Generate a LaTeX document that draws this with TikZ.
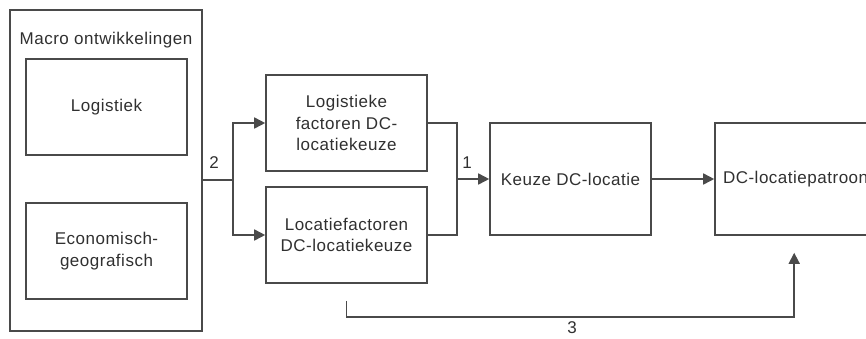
\documentclass[tikz,border=0pt]{standalone}
\usepackage{fontspec}
\setmainfont{Liberation Sans}[LetterSpace=3]
\usetikzlibrary{arrows.meta,calc}
\definecolor{linec}{HTML}{4A4A4A}
\definecolor{textc}{HTML}{303030}
\begin{document}
\begin{tikzpicture}[x=1pt,y=-1pt,
  every node/.style={font=\fontsize{17}{21.5}\selectfont, text=textc},
  box/.style={draw=linec, line width=1.6pt, rectangle, inner sep=0pt, align=center},
  conn/.style={draw=linec, line width=1.6pt},
  arr/.style={conn, -{Triangle[length=11pt,width=11pt]}},
  lbl/.style={inner sep=0pt}]
\clip (0,0) rectangle (866,338);
\useasboundingbox (0,0) rectangle (866,338);
\fill[white] (0,0) rectangle (866,338);
% left group
\node[box, minimum width=192, minimum height=321] (outer) at (106,170.5) {};
\node[lbl] (title) at (106,40) {Macro ontwikkelingen};
\node[box, minimum width=161, minimum height=96] (logi) at (106.5,107) {Logistiek};
\node[box, minimum width=161, minimum height=96] (econ) at (106.5,251) {Economisch-\\geografisch};
% middle
\node[box, minimum width=161, minimum height=96] (lfac) at (346.5,123) {Logistieke\\factoren DC-\\locatiekeuze};
\node[box, minimum width=161, minimum height=96] (locf) at (346.5,235) {Locatiefactoren\\DC-locatiekeuze};
\node[box, minimum width=161, minimum height=112] (keuze) at (570.5,179) {Keuze DC-locatie};
\node[box, minimum height=112, text width=184, inner xsep=8pt, align=left] (patroon) at (815,179) {DC-locatiepatroon};
% connectors
\coordinate (s2) at (233,180);
\draw[conn] (outer.east |- s2) -- (s2);
\draw[arr] (s2) |- (lfac.west);
\draw[arr] (s2) |- (locf.west);
\node[lbl] (n2) at (214,163) {2};
\coordinate (j1) at (457,179);
\draw[conn] (lfac.east) -| (j1);
\draw[conn] (locf.east) -| (j1);
\draw[arr] (j1) -- (keuze.west);
\node[lbl] (n1) at (467,163) {1};
\draw[arr] (keuze.east) -- (patroon.west);
\coordinate (b1) at ($(locf.south)+(0,17)$);
\coordinate (b3) at ($(patroon.south west)+(80,17)$);
\draw[arr] (b1) -- ++(0,16) -| (b3);
\node[lbl] (n3) at (572,328) {3};
\end{tikzpicture}
\end{document}
